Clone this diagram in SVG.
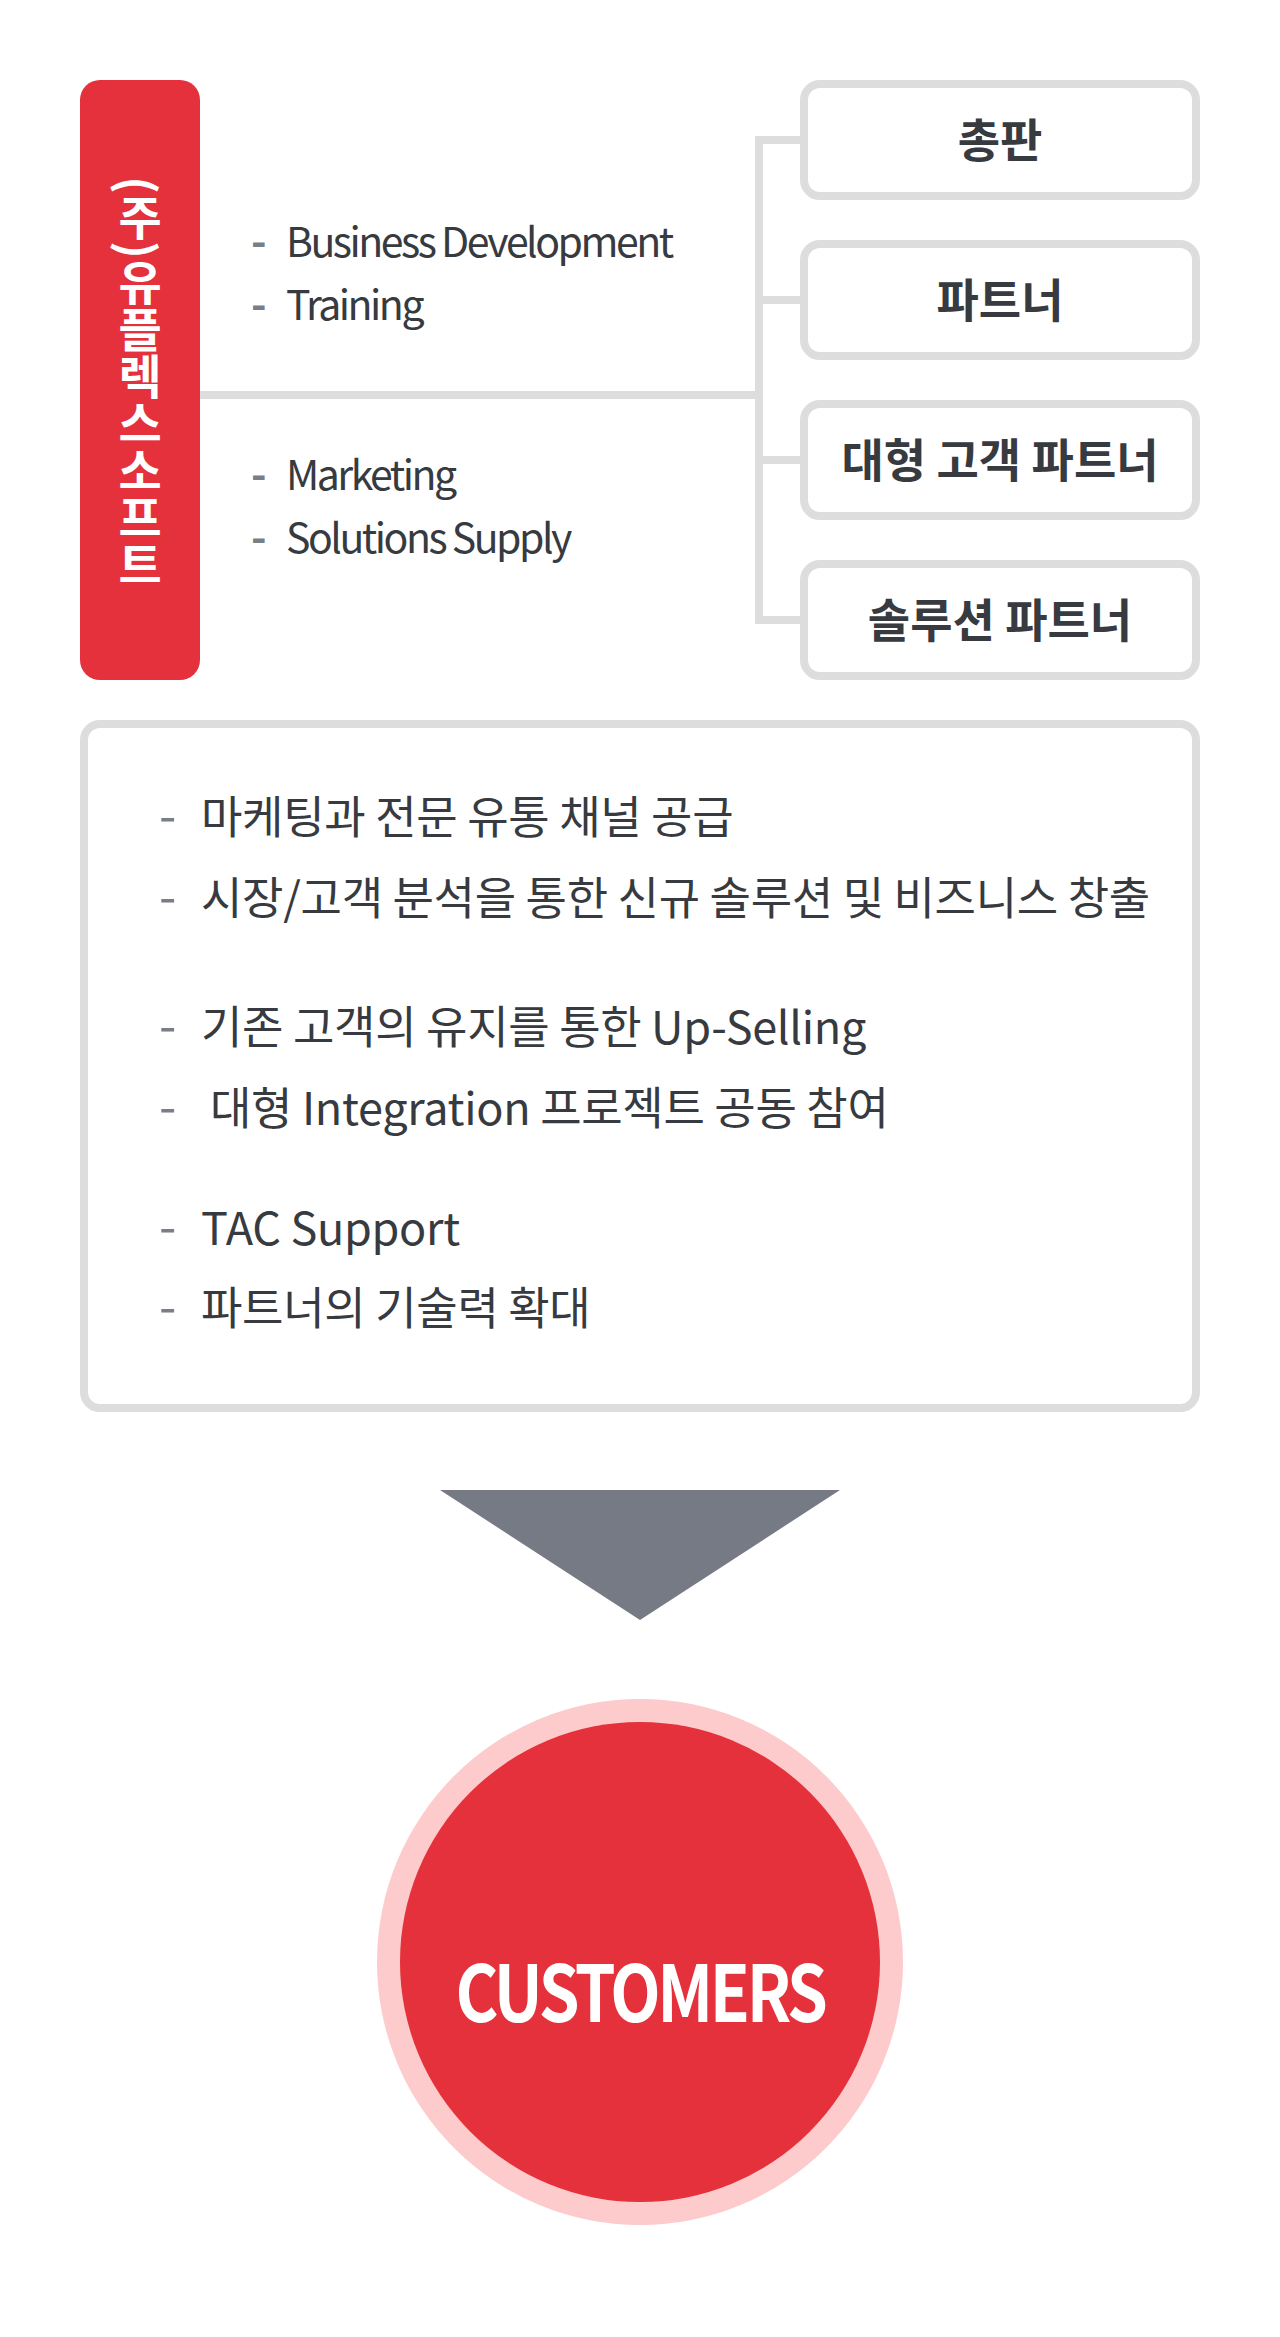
<svg xmlns="http://www.w3.org/2000/svg" width="1280" height="2337" viewBox="0 0 1280 2337">
<style>
.txt{font-family:"Noto Sans CJK KR","Noto Sans",sans-serif;fill:#373a3f;}
.role{font-size:41px;letter-spacing:-2.5px;}
.body{font-size:45px;letter-spacing:-0.3px;}
.label{font-size:46px;font-weight:bold;text-anchor:middle;}
.dash{fill:#7a7e87;font-size:50px;letter-spacing:0;}
.role .dash{font-size:42px;font-weight:bold;}
.box{fill:#ffffff;stroke:#dddddd;stroke-width:8;}
.conn{fill:none;stroke:#dddddd;stroke-width:8;}
</style>
<rect width="1280" height="2337" fill="#ffffff"/>
<g id="connectors">
<path class="conn" d="M200 395 H759 M759 136 V624 M755 140 H800 M755 300 H800 M755 460 H800 M755 620 H800"/>
</g>
<g id="company">
<rect x="80" y="80" width="120" height="600" rx="20" fill="#e4313b"/>
<text x="140" y="382" class="txt" style="writing-mode:vertical-rl;font-size:47px;font-weight:bold;fill:#ffffff;" text-anchor="middle">(주)유플렉스소프트</text>
</g>
<g id="roles">
<text class="txt role" x="251" y="257"><tspan class="dash">-</tspan><tspan x="286">Business Development</tspan></text>
<text class="txt role" x="251" y="320"><tspan class="dash">-</tspan><tspan x="286">Training</tspan></text>
<text class="txt role" x="251" y="490"><tspan class="dash">-</tspan><tspan x="286">Marketing</tspan></text>
<text class="txt role" x="251" y="553"><tspan class="dash">-</tspan><tspan x="286">Solutions Supply</tspan></text>
</g>
<g id="box-chongpan">
<rect class="box" x="804" y="84" width="392" height="112" rx="16"/>
<text class="txt label" x="1000" y="157">총판</text>
</g>
<g id="box-partner">
<rect class="box" x="804" y="244" width="392" height="112" rx="16"/>
<text class="txt label" x="1000" y="317">파트너</text>
</g>
<g id="box-large">
<rect class="box" x="804" y="404" width="392" height="112" rx="16"/>
<text class="txt label" x="1000" y="477">대형 고객 파트너</text>
</g>
<g id="box-solution">
<rect class="box" x="804" y="564" width="392" height="112" rx="16"/>
<text class="txt label" x="1000" y="637">솔루션 파트너</text>
</g>
<g id="details">
<rect class="box" x="84" y="724" width="1112" height="684" rx="16"/>
<text class="txt body" x="159" y="834"><tspan class="dash">-</tspan><tspan x="201">마케팅과 전문 유통 채널 공급</tspan></text>
<text class="txt body" x="159" y="915"><tspan class="dash">-</tspan><tspan x="201">시장/고객 분석을 통한 신규 솔루션 및 비즈니스 창출</tspan></text>
<text class="txt body" x="159" y="1044"><tspan class="dash">-</tspan><tspan x="201">기존 고객의 유지를 통한 Up-Selling</tspan></text>
<text class="txt body" x="159" y="1125"><tspan class="dash">-</tspan><tspan x="210">대형 Integration 프로젝트 공동 참여</tspan></text>
<text class="txt body" x="159" y="1245"><tspan class="dash">-</tspan><tspan x="201">TAC Support</tspan></text>
<text class="txt body" x="159" y="1325"><tspan class="dash">-</tspan><tspan x="201">파트너의 기술력 확대</tspan></text>
</g>
<g id="arrow">
<polygon points="440,1490 840,1490 640,1620" fill="#767a84"/>
</g>
<g id="customers">
<circle cx="640" cy="1962" r="263" fill="#fdcbcb"/>
<circle cx="640" cy="1962" r="240" fill="#e4313b"/>
<text transform="translate(640 2022) scale(0.84 1)" x="0" y="0" class="txt" style="font-size:78px;font-weight:bold;fill:#ffffff;letter-spacing:-4px;" text-anchor="middle">CUSTOMERS</text>
</g>
</svg>
